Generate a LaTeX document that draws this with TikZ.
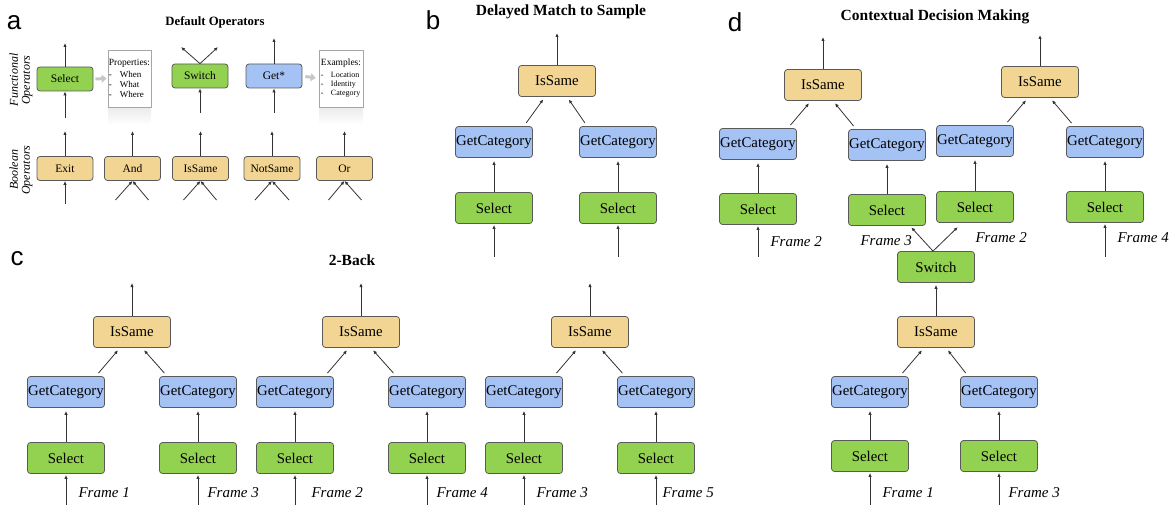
\documentclass[tikz,border=0pt]{standalone}
\usepackage{fontspec}
\setmainfont{Liberation Serif}
\newfontfamily\panelfont{Liberation Sans}
\usetikzlibrary{arrows.meta}

\definecolor{selgreen}{HTML}{93D150}
\definecolor{getblue}{HTML}{A4C2F4}
\definecolor{booltan}{HTML}{F2D592}
\definecolor{boxline}{HTML}{5A5A5A}
\definecolor{linkgray}{HTML}{333333}

\tikzset{
  opbox/.style={draw=boxline, line width=0.8pt, rounded corners=3pt, inner sep=0pt,
    minimum width=77pt, minimum height=31pt, font=\fontsize{14.8}{16}\selectfont},
  selectbox/.style={opbox, fill=selgreen},
  getbox/.style={opbox, fill=getblue},
  boolbox/.style={opbox, fill=booltan},
  smallbox/.style={minimum width=56pt, minimum height=24pt, font=\fontsize{11.5}{13}\selectfont},
  infobox/.style={draw=black!35, fill=white, line width=0.6pt, align=left, inner sep=1pt,
    minimum height=57pt},
  link/.style={draw=linkgray, line width=0.8pt, -{Latex[length=4pt,width=3.4pt]}},
  hint/.style={draw=black!22, line width=3pt, -{Triangle[length=5pt,width=8pt]}},
  framelabel/.style={anchor=base west, font=\fontsize{15}{18}\selectfont\itshape},
  paneltitle/.style={anchor=base, font=\fontsize{15.5}{18}\selectfont\bfseries},
  panelletter/.style={anchor=base, font=\fontsize{26}{28}\panelfont},
  sidelabel/.style={rotate=90, align=center, font=\fontsize{12}{12}\selectfont\itshape},
}

\begin{document}
\begin{tikzpicture}[x=1pt,y=-1pt]
\useasboundingbox (0,0) rectangle (1169,505);

% ---------- a: default operators
\node[panelletter] (aLetter) at (14,30) {a};
\node[paneltitle, font=\fontsize{12.7}{15}\selectfont\bfseries] (aTitle) at (215,26) {Default Operators};
\node[sidelabel] (aFuncLabel) at (21,80) {Functional\\Operators};
\node[sidelabel] (aBoolLabel) at (21,170) {Boolean\\Operators};

\shade[top color=black!8, bottom color=white] (108,107) rectangle (151,125);
\shade[top color=black!8, bottom color=white] (319,107) rectangle (363,125);

\node[selectbox, smallbox] (aSelect) at (65,79) {Select};
\node[selectbox, smallbox] (aSwitch) at (200,76) {Switch};
\node[getbox, smallbox] (aGet) at (274,76) {Get*};
\node[infobox, minimum width=43pt, font=\fontsize{9}{10}\selectfont] (aProps) at (129.5,78.5)
  {{\fontsize{9.5}{10}\selectfont Properties:}\\[2pt]\makebox[11pt][l]{-}When\\\makebox[11pt][l]{-}What\\\makebox[11pt][l]{-}Where};
\node[infobox, minimum width=44pt, font=\fontsize{8}{9}\selectfont] (aExamples) at (341,78.5)
  {{\fontsize{9.5}{10}\selectfont Examples:}\\[3pt]\makebox[10pt][l]{-}Location\\\makebox[10pt][l]{-}Identity\\\makebox[10pt][l]{-}Category};

\node[boolbox, smallbox] (aExit) at (65,168.5) {Exit};
\node[boolbox, smallbox] (aAnd) at (132.5,168.5) {And};
\node[boolbox, smallbox] (aIsSame) at (200.5,168.5) {IsSame};
\node[boolbox, smallbox] (aNotSame) at (272,168.5) {NotSame};
\node[boolbox, smallbox] (aOr) at (344.5,168.5) {Or};

\coordinate (aSelectIn) at (65,118);
\coordinate (aSelectOut) at (65,43);
\coordinate (aSwitchIn) at (200,113);
\coordinate (aSwitchOutL) at (181,47);
\coordinate (aSwitchOutR) at (218,47);
\coordinate (aGetIn) at (274,113);
\coordinate (aGetOut) at (274,38);
\coordinate (aExitIn) at (65,204);
\coordinate (aExitOut) at (65,131);
\coordinate (aAndOut) at (132.5,131);
\coordinate (aIsSameOut) at (200.5,131);
\coordinate (aNotSameOut) at (272,131);
\coordinate (aOrOut) at (344.5,131);
\coordinate (aAndInL) at (115.5,200);
\coordinate (aAndInR) at (148.5,200);
\coordinate (aIsSameInL) at (183.5,200);
\coordinate (aIsSameInR) at (216.5,200);
\coordinate (aNotSameInL) at (255,200);
\coordinate (aNotSameInR) at (289,200);
\coordinate (aOrInL) at (328.5,200);
\coordinate (aOrInR) at (361.5,200);

\draw[link] (aSelectIn) -- (aSelect.south);
\draw[link] (aSelect.north) -- (aSelectOut);
\draw[link] (aSwitchIn) -- (aSwitch.south);
\draw[link] (aSwitch.north) -- (aSwitchOutL);
\draw[link] (aSwitch.north) -- (aSwitchOutR);
\draw[link] (aGetIn) -- (aGet.south);
\draw[link] (aGet.north) -- (aGetOut);
\draw[hint, shorten <=2pt, shorten >=1pt] (aSelect.east) -- (aProps.west);
\draw[hint, shorten <=3pt, shorten >=3pt] (aGet.east) -- (aExamples.west);

\draw[link] (aExitIn) -- (aExit.south);
\draw[link] (aExit.north) -- (aExitOut);
\draw[link] (aAnd.north) -- (aAndOut);
\draw[link] (aIsSame.north) -- (aIsSameOut);
\draw[link] (aNotSame.north) -- (aNotSameOut);
\draw[link] (aOr.north) -- (aOrOut);
\draw[link] (aAndInL) -- (aAnd.south);
\draw[link] (aAndInR) -- (aAnd.south);
\draw[link] (aIsSameInL) -- (aIsSame.south);
\draw[link] (aIsSameInR) -- (aIsSame.south);
\draw[link] (aNotSameInL) -- (aNotSame.south);
\draw[link] (aNotSameInR) -- (aNotSame.south);
\draw[link] (aOrInL) -- (aOr.south);
\draw[link] (aOrInR) -- (aOr.south);

% ---------- b: delayed match to sample
\node[panelletter] (bLetter) at (433,30) {b};
\node[paneltitle] (bTitle) at (561,16) {Delayed Match to Sample};

\node[boolbox] (bIsSame) at (557,81) {IsSame};
\node[getbox] (bGetL) at (494,142) {GetCategory};
\node[getbox] (bGetR) at (618,142) {GetCategory};
\node[selectbox] (bSelL) at (494,208) {Select};
\node[selectbox] (bSelR) at (618,208) {Select};

\coordinate (bOut) at (557,33);
\coordinate (bInL) at (494,257);
\coordinate (bInR) at (618,257);

\draw[link] (bIsSame.north) -- (bOut);
\draw[link, shorten <=4pt, shorten >=3pt] ([xshift=-9pt]bGetL.north east) -- ([xshift=-12pt]bIsSame.south);
\draw[link, shorten <=4pt, shorten >=3pt] ([xshift=8pt]bGetR.north west) -- ([xshift=10pt]bIsSame.south);
\draw[link, shorten >=3pt] (bSelL.north) -- (bGetL.south);
\draw[link, shorten >=3pt] (bSelR.north) -- (bGetR.south);
\draw[link, shorten >=1pt] (bInL) -- (bSelL.south);
\draw[link, shorten >=1pt] (bInR) -- (bSelR.south);

% ---------- c: 2-back
\node[panelletter] (cLetter) at (17,265) {c};
\node[paneltitle] (cTitle) at (352,265) {2-Back};

\node[boolbox] (cIsSameA) at (132,332) {IsSame};
\node[getbox] (cGetA1) at (66,392) {GetCategory};
\node[getbox] (cGetA2) at (198,392) {GetCategory};
\node[selectbox] (cSelA1) at (66,458) {Select};
\node[selectbox] (cSelA2) at (198,458) {Select};
\node[framelabel] (cFrameA1) at (75,497) {Frame 1};
\node[framelabel] (cFrameA2) at (204,497) {Frame 3};

\node[boolbox] (cIsSameB) at (361,332) {IsSame};
\node[getbox] (cGetB1) at (295,392) {GetCategory};
\node[getbox] (cGetB2) at (427,392) {GetCategory};
\node[selectbox] (cSelB1) at (295,458) {Select};
\node[selectbox] (cSelB2) at (427,458) {Select};
\node[framelabel] (cFrameB1) at (308,497) {Frame 2};
\node[framelabel] (cFrameB2) at (433,497) {Frame 4};

\node[boolbox] (cIsSameC) at (590,332) {IsSame};
\node[getbox] (cGetC1) at (524,392) {GetCategory};
\node[getbox] (cGetC2) at (656,392) {GetCategory};
\node[selectbox] (cSelC1) at (524,458) {Select};
\node[selectbox] (cSelC2) at (656,458) {Select};
\node[framelabel] (cFrameC1) at (533,497) {Frame 3};
\node[framelabel] (cFrameC2) at (659,497) {Frame 5};

\coordinate (cOutA) at (132,283);
\coordinate (cOutB) at (361,283);
\coordinate (cOutC) at (590,283);
\coordinate (cInA1) at (66,505);
\coordinate (cInA2) at (198,505);
\coordinate (cInB1) at (295,505);
\coordinate (cInB2) at (427,505);
\coordinate (cInC1) at (524,505);
\coordinate (cInC2) at (656,505);

\draw[link] (cIsSameA.north) -- (cOutA);
\draw[link] (cIsSameB.north) -- (cOutB);
\draw[link] (cIsSameC.north) -- (cOutC);
\draw[link, shorten <=4pt, shorten >=3pt] ([xshift=-9pt]cGetA1.north east) -- ([xshift=-12pt]cIsSameA.south);
\draw[link, shorten <=4pt, shorten >=3pt] ([xshift=8pt]cGetA2.north west) -- ([xshift=10pt]cIsSameA.south);
\draw[link, shorten <=4pt, shorten >=3pt] ([xshift=-9pt]cGetB1.north east) -- ([xshift=-12pt]cIsSameB.south);
\draw[link, shorten <=4pt, shorten >=3pt] ([xshift=8pt]cGetB2.north west) -- ([xshift=10pt]cIsSameB.south);
\draw[link, shorten <=4pt, shorten >=3pt] ([xshift=-9pt]cGetC1.north east) -- ([xshift=-12pt]cIsSameC.south);
\draw[link, shorten <=4pt, shorten >=3pt] ([xshift=8pt]cGetC2.north west) -- ([xshift=10pt]cIsSameC.south);
\draw[link, shorten >=3pt] (cSelA1.north) -- (cGetA1.south);
\draw[link, shorten >=3pt] (cSelA2.north) -- (cGetA2.south);
\draw[link, shorten >=3pt] (cSelB1.north) -- (cGetB1.south);
\draw[link, shorten >=3pt] (cSelB2.north) -- (cGetB2.south);
\draw[link, shorten >=3pt] (cSelC1.north) -- (cGetC1.south);
\draw[link, shorten >=3pt] (cSelC2.north) -- (cGetC2.south);
\draw[link, shorten >=1pt] (cInA1) -- (cSelA1.south);
\draw[link, shorten >=1pt] (cInA2) -- (cSelA2.south);
\draw[link, shorten >=1pt] (cInB1) -- (cSelB1.south);
\draw[link, shorten >=1pt] (cInB2) -- (cSelB2.south);
\draw[link, shorten >=1pt] (cInC1) -- (cSelC1.south);
\draw[link, shorten >=1pt] (cInC2) -- (cSelC2.south);

% ---------- d: contextual decision making
\node[panelletter] (dLetter) at (735,32) {d};
\node[paneltitle] (dTitle) at (935,21) {Contextual Decision Making};

\node[boolbox] (dIsSameL) at (823,85) {IsSame};
\node[getbox] (dGetL1) at (758,144) {GetCategory};
\node[getbox] (dGetL2) at (887,145) {GetCategory};
\node[selectbox] (dSelL1) at (758,209) {Select};
\node[selectbox] (dSelL2) at (887,210) {Select};

\node[boolbox] (dIsSameR) at (1040,82) {IsSame};
\node[getbox] (dGetR1) at (975,141) {GetCategory};
\node[getbox] (dGetR2) at (1105,142) {GetCategory};
\node[selectbox] (dSelR1) at (975,207) {Select};
\node[selectbox] (dSelR2) at (1105,207) {Select};

\node[framelabel] (dFrameL1) at (767,246) {Frame 2};
\node[framelabel] (dFrameL2) at (857,245) {Frame 3};
\node[framelabel] (dFrameR1) at (972,242) {Frame 2};
\node[framelabel] (dFrameR2) at (1114,242) {Frame 4};

\node[selectbox] (dSwitch) at (936,267) {Switch};
\node[boolbox] (dIsSameB) at (936,332) {IsSame};
\node[getbox] (dGetB1) at (870,392) {GetCategory};
\node[getbox] (dGetB2) at (999,392) {GetCategory};
\node[selectbox] (dSelB1) at (870,456) {Select};
\node[selectbox] (dSelB2) at (999,456) {Select};
\node[framelabel] (dFrameB1) at (879,497) {Frame 1};
\node[framelabel] (dFrameB2) at (1005,497) {Frame 3};

\coordinate (dOutL) at (823,37);
\coordinate (dOutR) at (1040,35);
\coordinate (dInL1) at (758,257);
\coordinate (dInR2) at (1105,257);
\coordinate (dInB1) at (870,505);
\coordinate (dInB2) at (999,505);

\draw[link] (dIsSameL.north) -- (dOutL);
\draw[link] (dIsSameR.north) -- (dOutR);
\draw[link, shorten <=4pt, shorten >=3pt] ([xshift=-9pt]dGetL1.north east) -- ([xshift=-12pt]dIsSameL.south);
\draw[link, shorten <=4pt, shorten >=3pt] ([xshift=8pt]dGetL2.north west) -- ([xshift=10pt]dIsSameL.south);
\draw[link, shorten <=4pt, shorten >=3pt] ([xshift=-9pt]dGetR1.north east) -- ([xshift=-12pt]dIsSameR.south);
\draw[link, shorten <=4pt, shorten >=3pt] ([xshift=8pt]dGetR2.north west) -- ([xshift=10pt]dIsSameR.south);
\draw[link, shorten >=3pt] (dSelL1.north) -- (dGetL1.south);
\draw[link, shorten >=3pt] (dSelL2.north) -- (dGetL2.south);
\draw[link, shorten >=3pt] (dSelR1.north) -- (dGetR1.south);
\draw[link, shorten >=3pt] (dSelR2.north) -- (dGetR2.south);
\draw[link, shorten >=1pt] (dInL1) -- (dSelL1.south);
\draw[link, shorten >=1pt] (dInR2) -- (dSelR2.south);
\draw[link, shorten >=2pt] ([xshift=-3pt]dSwitch.north) -- ([xshift=-16pt]dSelL2.south east);
\draw[link, shorten >=6pt] ([xshift=-3pt]dSwitch.north) -- ([xshift=26pt]dSelR1.south west);

\draw[link, shorten >=2pt] (dIsSameB.north) -- (dSwitch.south);
\draw[link, shorten <=4pt, shorten >=3pt] ([xshift=-9pt]dGetB1.north east) -- ([xshift=-12pt]dIsSameB.south);
\draw[link, shorten <=4pt, shorten >=3pt] ([xshift=8pt]dGetB2.north west) -- ([xshift=10pt]dIsSameB.south);
\draw[link, shorten >=3pt] (dSelB1.north) -- (dGetB1.south);
\draw[link, shorten >=3pt] (dSelB2.north) -- (dGetB2.south);
\draw[link, shorten >=1pt] (dInB1) -- (dSelB1.south);
\draw[link, shorten >=1pt] (dInB2) -- (dSelB2.south);
\end{tikzpicture}
\end{document}
